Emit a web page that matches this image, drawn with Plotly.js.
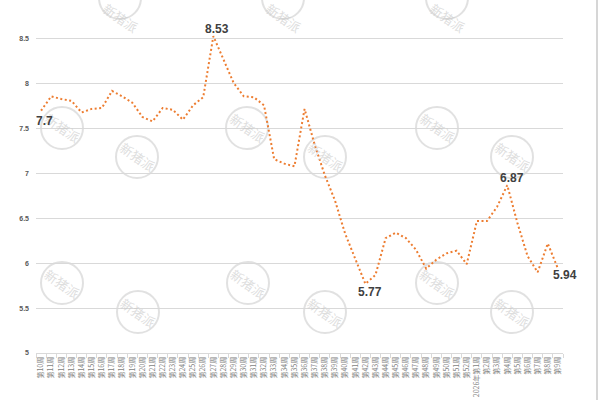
<!DOCTYPE html>
<html>
<head>
<meta charset="utf-8">
<script src="https://cdn.plot.ly/plotly-3.0.1.min.js"></script>
<style>html,body{margin:0;padding:0;background:#fff;}#chart{width:600px;height:400px;}</style>
</head>
<body>
<div id="chart"></div>
<script>
const weeks2025 = [];
for (let w = 10; w <= 52; w++) weeks2025.push('第' + w + '周');
const weeks2026 = ['2026年第1周','第2周','第3周','第4周','第5周','第6周','第7周','第8周','第9周'];
const categories = weeks2025.concat(weeks2026);

const prices = [7.70,7.86,7.83,7.81,7.68,7.72,7.73,7.92,7.86,7.79,
                7.63,7.58,7.73,7.71,7.60,7.76,7.85,8.53,8.27,8.01,
                7.86,7.85,7.76,7.16,7.11,7.08,7.72,7.32,6.98,6.70,
                6.33,6.04,5.77,5.87,6.28,6.34,6.28,6.15,5.94,6.04,
                6.11,6.14,5.99,6.47,6.47,6.63,6.87,6.45,6.08,5.90,
                6.22,5.94];

const labelled = [0, 17, 32, 46, 51];
const labelOffsets = {0:[3,10], 17:[4,-7], 32:[5,8], 46:[5,-7], 51:[7,6]};

const yTicks = [5,5.5,6,6.5,7,7.5,8,8.5];
const yTickText = ['5','5.5','6','6.5','7','7.5','8','8.5'];

const M = {l:36, r:37, t:3, b:47};
const W = 600 - M.l - M.r, H = 400 - M.t - M.b;
const px = x => (x - M.l) / W;
const py = y => (400 - M.b - y) / H;

const wmCenters = [[120,-2],[283,-2],[447,-2],
                   [62,128],[247,128],[437,128],
                   [137,157],[325,157],[512,157],
                   [62,283],[248,283],[437,283],
                   [138,312],[325,312],[512,312]];
const R = 21;
const shapes = wmCenters.map(c => ({
  type:'circle', xref:'paper', yref:'paper', layer:'below',
  x0:px(c[0]-R), x1:px(c[0]+R), y0:py(c[1]+R), y1:py(c[1]-R),
  line:{color:'rgba(205,205,205,0.6)', width:2}
}));
shapes.push({type:'line', xref:'paper', yref:'paper', x0:px(597), x1:px(597), y0:py(400), y1:py(0),
  line:{color:'#c8c8c8', width:1.5}});

const annotations = wmCenters.map(c => ({
  xref:'paper', yref:'paper', x:px(c[0]), y:py(Math.max(c[1], 18)), xanchor:'center', yanchor:'middle',
  text:'新猪派', showarrow:false,
  textangle:35, font:{family:'Noto Sans CJK SC', size:13, color:'rgba(200,200,200,0.6)'}
}));
labelled.forEach(i => {
  annotations.push({
    x: categories[i], y: prices[i], xref:'x', yref:'y', text: String(prices[i]),
    showarrow:false, xanchor:'center', yanchor:'middle',
    xshift: labelOffsets[i][0], yshift: -labelOffsets[i][1],
    font:{family:'Liberation Sans, Arial', size:12, color:'#404040', weight:'bold'}
  });
});

const trace = {
  x: categories, y: prices, type:'scatter', mode:'lines',
  line:{color:'#ED7D31', width:2, dash:'2px,2.5px'}, hoverinfo:'skip'
};

const layout = {
  width:600, height:400, margin:M, showlegend:false,
  paper_bgcolor:'#fff', plot_bgcolor:'#fff',
  xaxis:{type:'category', range:[-0.5, categories.length-0.5], showgrid:false,
    showline:true, linecolor:'#d9d9d9', linewidth:1,
    ticks:'outside', tickson:'boundaries', ticklen:4, tickcolor:'#d9d9d9',
    tickangle:-90, tickfont:{family:'Noto Sans CJK SC', size:7, color:'#7f7f7f'},
    zeroline:false, fixedrange:true},
  yaxis:{range:[5,8.9], tickvals:yTicks, ticktext:yTickText, showgrid:true,
    gridcolor:'#d9d9d9', gridwidth:1, zeroline:false, showline:false, ticks:'',
    ticklabelstandoff:6,
    tickfont:{family:'Liberation Sans, Arial', size:7, color:'#595959', weight:'bold'},
    fixedrange:true},
  shapes: shapes, annotations: annotations
};

Plotly.newPlot('chart', [trace], layout, {displayModeBar:false, staticPlot:true});
</script>
</body>
</html>
